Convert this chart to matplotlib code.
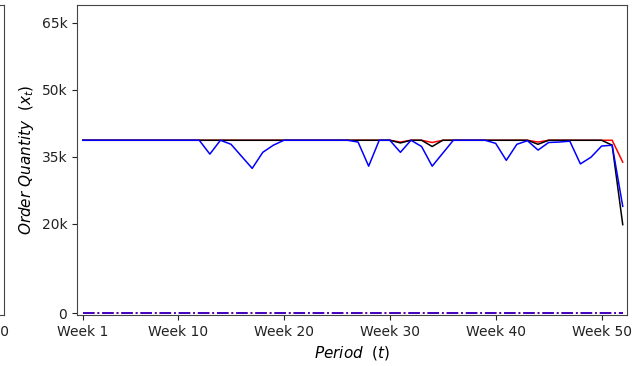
import numpy as np
import matplotlib.pyplot as plt

# weekly order quantities (thousands) for the three policies
weeks = np.arange(52)
week_ticks = [0, 9, 19, 29, 39, 49]
week_labels = ["Week 1", "Week 10", "Week 20", "Week 30", "Week 40", "Week 50"]

order_red = [38.7] * 30 + [38.3, 38.7, 38.7, 38.2] + [38.7] * 9 + [38.3] \
    + [38.7] * 7 + [33.8]
order_black = [38.7] * 30 + [38.1, 38.7, 38.7, 37.3] + [38.7] * 9 + [37.8] \
    + [38.7] * 6 + [37.6, 19.8]
order_blue = [38.7] * 12 + [35.6, 38.7, 37.8, 35.1, 32.4, 36.0, 37.6] \
    + [38.7] * 7 + [38.3, 32.9, 38.7, 38.7, 36.0, 38.7, 37.3, 32.9, 35.8] \
    + [38.7] * 4 + [38.0, 34.2, 37.8, 38.6, 36.5, 38.2, 38.3, 38.5,
                    33.4, 34.9, 37.4, 37.6, 23.9]

backlog_red = [0.0] * 52
backlog_blue = [0.0] * 52

y_ticks = [0, 20000, 35000, 50000, 65000]
y_labels = ["0", "20k", "35k", "50k", "65k"]

plt.rcParams["font.size"] = 10

fig = plt.figure(figsize=(6.42, 3.66), dpi=100)


def style_axis(ax):
    ax.set_xlim(-0.55, 51.4)
    ax.set_ylim(-450, 69000)
    ax.set_xticks(week_ticks)
    ax.set_xticklabels(week_labels)
    ax.set_yticks(y_ticks)
    ax.set_yticklabels(y_labels)
    for s in ax.spines.values():
        s.set_color("#444444")
    ax.tick_params(colors="#222222")


# neighbouring panel, mostly off to the left
ax0 = fig.add_axes([-0.8505, 0.1393, 0.8567, 0.847])
style_axis(ax0)

ax = fig.add_axes([0.1199, 0.1393, 0.8567, 0.847])
style_axis(ax)

ax.plot(weeks, np.array(backlog_red), "r-.", linewidth=1.3)
ax.plot(weeks, np.array(backlog_blue), "b-.", linewidth=1.3, alpha=0.8)
ax.plot(weeks, np.array(order_red) * 1000, "r-", linewidth=1.1)
ax.plot(weeks, np.array(order_black) * 1000, "k-", linewidth=1.1)
ax.plot(weeks, np.array(order_blue) * 1000, "b-", linewidth=1.1)

ax.set_xlabel(r"$\it{Period}\ \ (t)$", fontsize=11)
ax.set_ylabel(r"$\it{Order\ Quantity}\ \ (x_t)$", fontsize=11)

fig.savefig("out.png", dpi=100)
